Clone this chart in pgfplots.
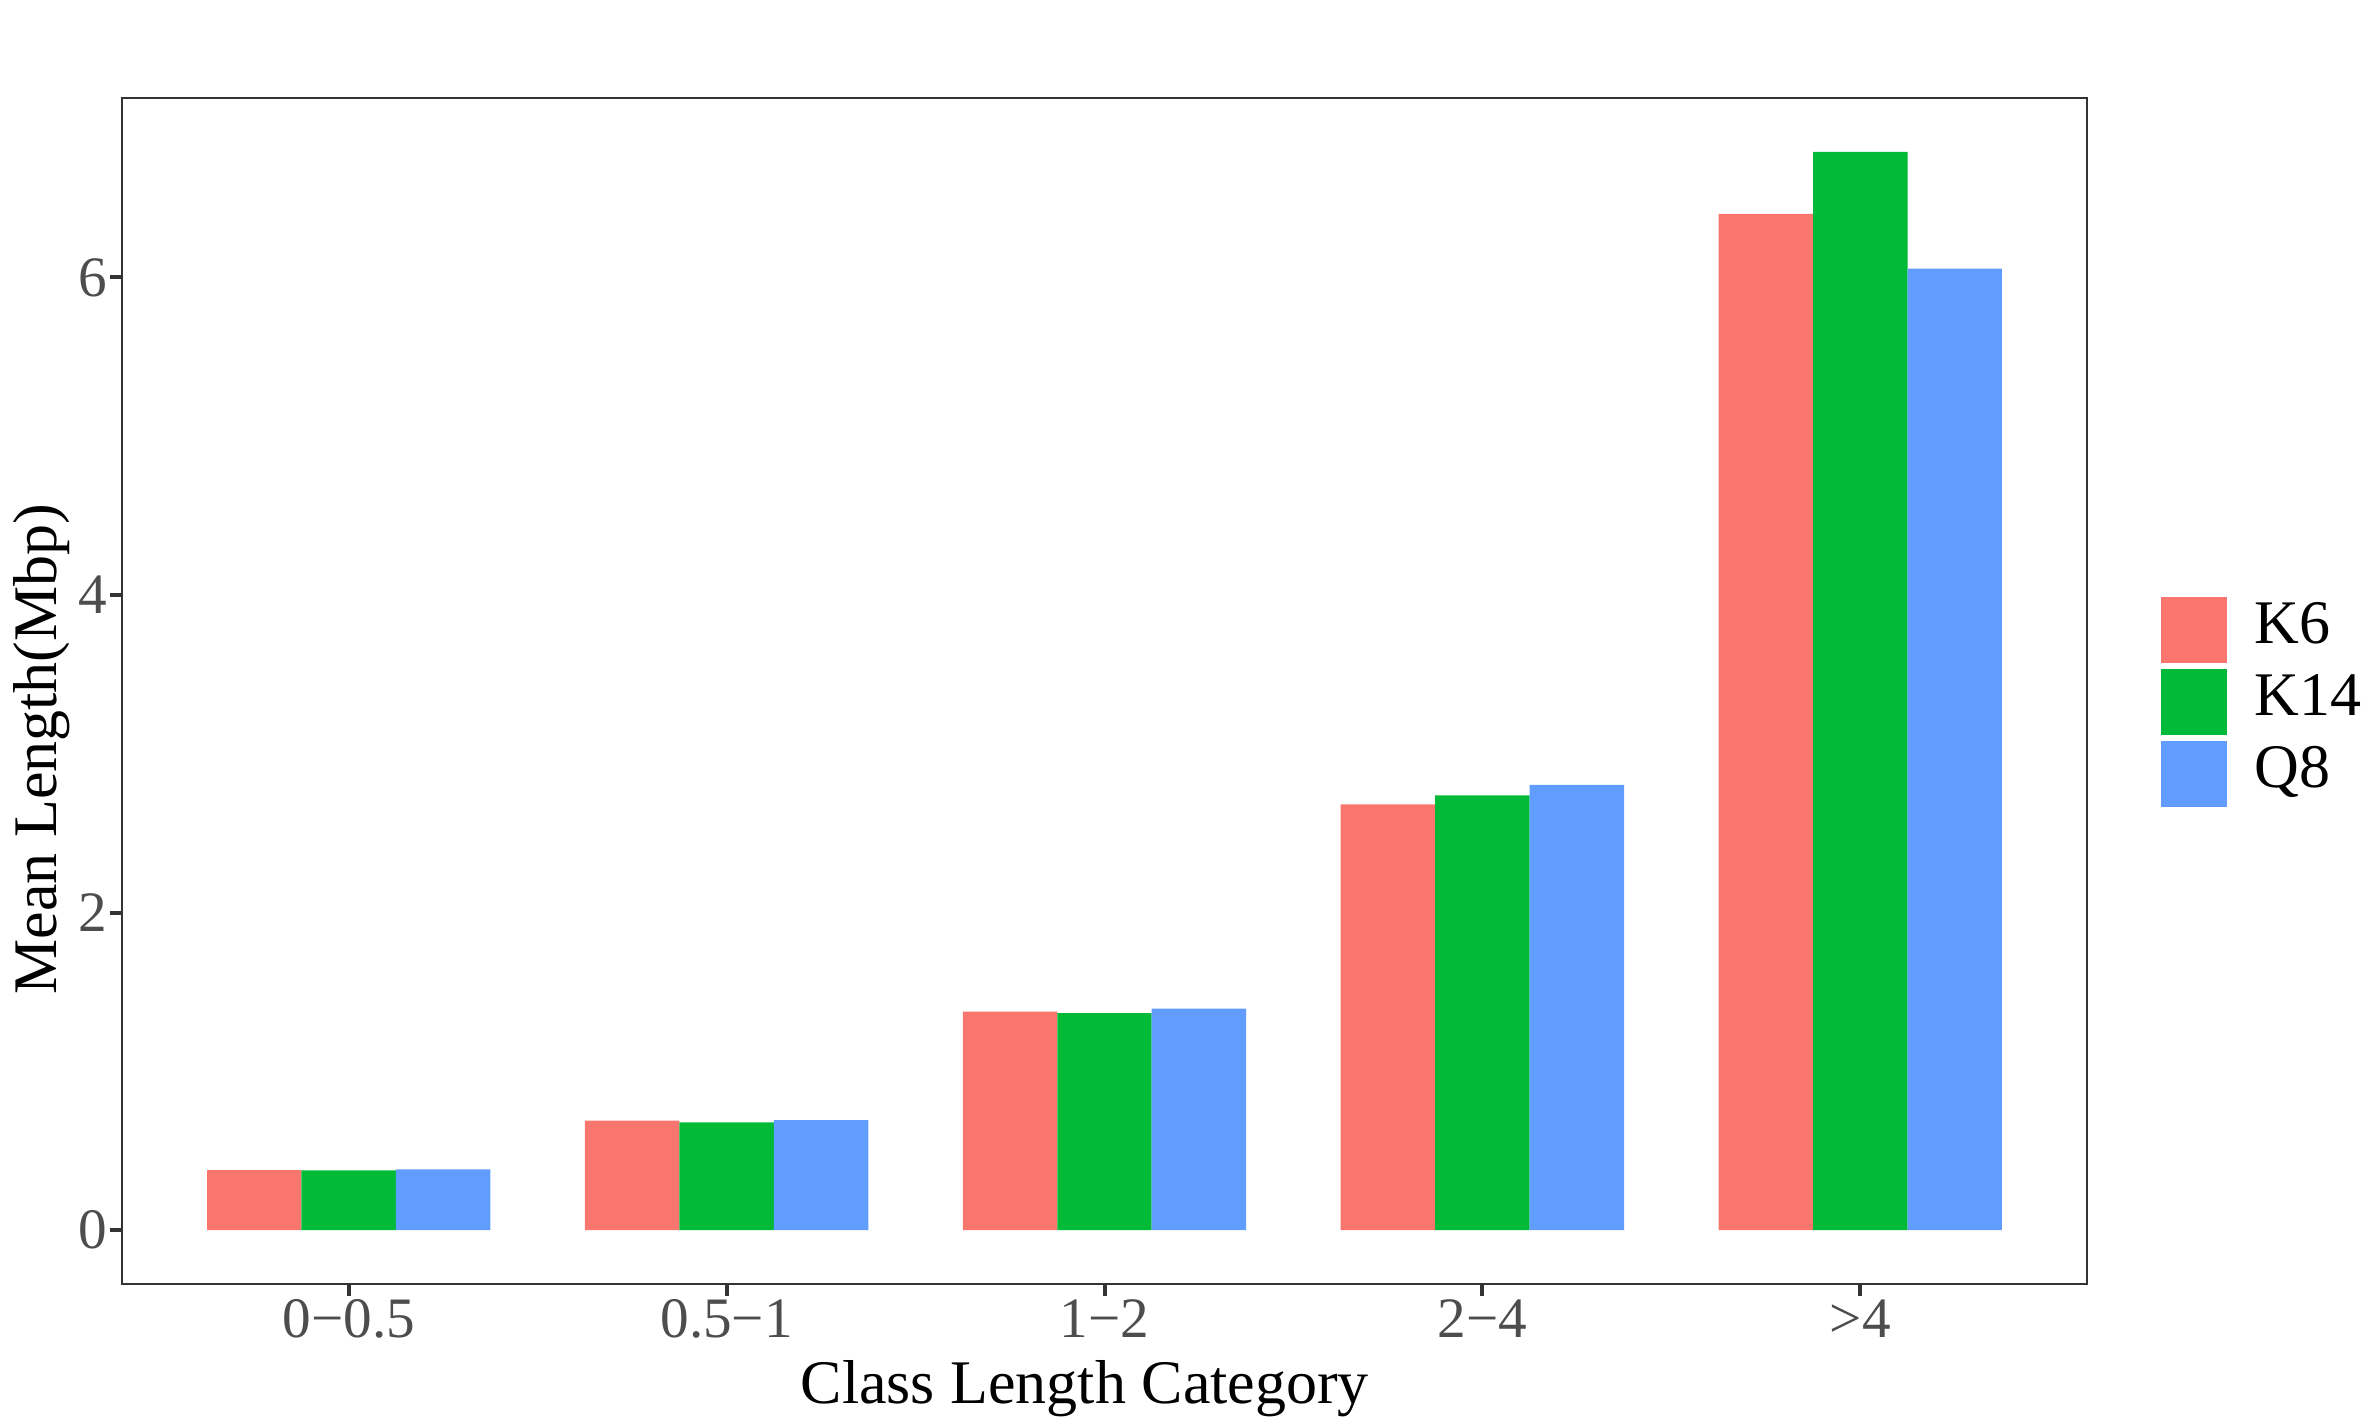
\documentclass[border=0pt]{standalone}
\usepackage{fontspec}
\setmainfont{Liberation Serif}
\usepackage{pgfplots}
\pgfplotsset{compat=1.18}
\definecolor{cK6}{HTML}{F8766D}
\definecolor{cK14}{HTML}{00BA38}
\definecolor{cQ8}{HTML}{619CFF}
\definecolor{tickc}{HTML}{4D4D4D}
\definecolor{framec}{HTML}{333333}
\begin{document}
\begin{tikzpicture}
\begin{axis}[
  scale only axis, width=491.25pt, height=296.5pt,
  xmin=0.4, xmax=5.6, ymin=-0.3395, ymax=7.1295,
  ybar, bar width=0.25,
  xtick={1,2,3,4,5},
  xticklabels={0−0.5,0.5−1,1−2,2−4,>4},
  ytick={0,2,4,6},
  tick pos=left,
  tick align=outside, major tick length=3pt,
  tick style={framec, line width=1pt},
  axis line style={framec, line width=0.7pt},
  /pgf/number format/assume math mode=true,
  tick label style={text=tickc, font=\fontsize{14.3}{16}\selectfont},
  xticklabel style={anchor=base, inner sep=0pt, yshift=-10.25pt},
  yticklabel style={anchor=east, inner sep=0pt, xshift=-0.5pt},
  xlabel={Class Length Category},
  ylabel={Mean Length(Mbp)},
  label style={font=\fontsize{15.5}{18}\selectfont, text=black},
  xlabel style={at={(axis description cs:0.49,0)}, anchor=base, yshift=-29.75pt},
  ylabel style={at={(axis description cs:-0.0331,0.451)}, anchor=base},
  legend style={at={(1.0375,0.579)}, anchor=north west, draw=none, fill=none,
    inner sep=0pt, outer sep=0pt, row sep=1.5pt, column sep=6.75pt,
    font=\fontsize{15.5}{18}\selectfont,
    nodes={inner sep=0pt, text height=10.8pt, text depth=0pt}},
  legend cell align=left,
  legend image code/.code={\fill[#1] (0pt,-10.23pt) rectangle (16.67pt,6.27pt);},
]
\addplot[fill=cK6, draw=none, bar shift=-0.25] coordinates {(1,0.378) (2,0.690) (3,1.376) (4,2.681) (5,6.40)};
\addplot[fill=cK14, draw=none, bar shift=0] coordinates {(1,0.376) (2,0.678) (3,1.366) (4,2.738) (5,6.79)};
\addplot[fill=cQ8, draw=none, bar shift=0.25] coordinates {(1,0.382) (2,0.692) (3,1.395) (4,2.804) (5,6.055)};
\legend{K6,K14,Q8}
\end{axis}
\pgfresetboundingbox
\path[use as bounding box] ([xshift=-30.5pt,yshift=-34.75pt]current axis.south west) rectangle ([xshift=69.75pt,yshift=24.5pt]current axis.north east);
\end{tikzpicture}
\end{document}
